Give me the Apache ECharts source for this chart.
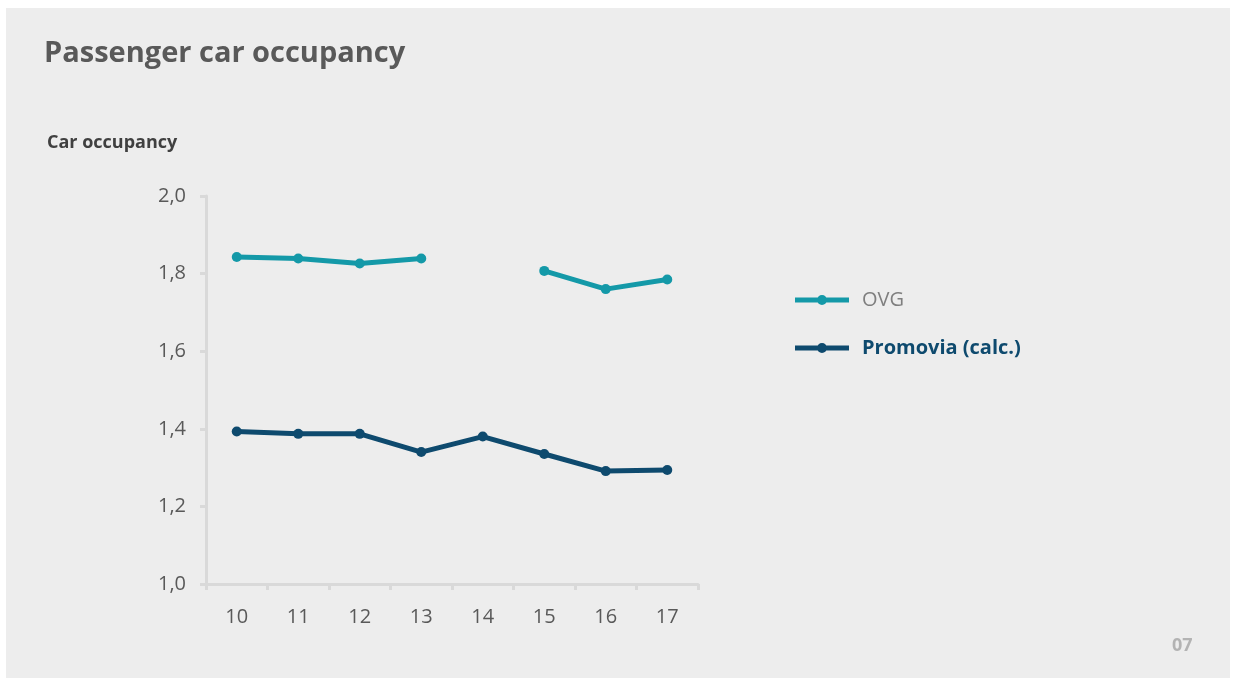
<!DOCTYPE html>
<html>
<head>
<meta charset="utf-8">
<script src="https://cdn.jsdelivr.net/npm/echarts@6/dist/echarts.min.js"></script>
<style>
  html, body { margin: 0; padding: 0; background: #ffffff; }
  #chart { width: 1234px; height: 684px; }
</style>
</head>
<body>
<div id="chart"></div>
<script>
// Years (20xx) on the category axis
const years = ['10', '11', '12', '13', '14', '15', '16', '17'];
// Average persons per car; null = no survey that year
const ovg = [1.843, 1.839, 1.826, 1.839, null, 1.807, 1.760, 1.785];
const promovia = [1.393, 1.387, 1.387, 1.340, 1.380, 1.335, 1.291, 1.294];
const yTicks = { min: 1.0, max: 2.0, interval: 0.2 };

const font = '"Open Sans", "Noto Sans", sans-serif';
// legend marker: short thick line with a dot in the middle (same winding so the dot stays filled)
const lineDot = 'path://M0,2.5 L54,2.5 L54,7.5 L0,7.5 Z M22,5 A5,5 0 1,1 32,5 A5,5 0 1,1 22,5 Z';
const chart = echarts.init(document.getElementById('chart'));

chart.setOption({
  backgroundColor: '#ffffff',
  animation: false,
  graphic: [
    { type: 'rect', left: 6, top: 8, shape: { width: 1224, height: 670 },
      style: { fill: '#ededed' }, z: -10 },
    { type: 'text', left: 44, top: 39,
      style: { text: 'Passenger car occupancy', fill: '#595959',
               font: 'bold 29px ' + font } },
    { type: 'text', left: 47, top: 134,
      style: { text: 'Car occupancy', fill: '#404040',
               font: 'bold 18px ' + font } },
    { type: 'text', left: 1172, top: 637,
      style: { text: '07', fill: '#b3b3b3', font: 'bold 18px ' + font } }
  ],
  grid: { left: 206, top: 196, width: 492, height: 388, containLabel: false },
  legend: {
    orient: 'vertical',
    left: 790, top: 285,
    itemGap: 28,
    itemWidth: 54, itemHeight: 10,
    textStyle: { fontFamily: font, fontSize: 20, color: '#7f7f7f', padding: [0, 0, 0, 8] },
    data: [
      { name: 'OVG', icon: lineDot },
      { name: 'Promovia (calc.)', icon: lineDot,
        textStyle: { color: '#0e4a6e', fontWeight: 'bold' } }
    ]
  },
  xAxis: {
    type: 'category',
    data: years,
    boundaryGap: true,
    axisLine: { lineStyle: { color: '#d9d9d9', width: 3 } },
    axisTick: { show: true, length: 6, lineStyle: { color: '#d9d9d9', width: 3 } },
    axisLabel: { color: '#595959', fontFamily: font, fontSize: 20, margin: 23 },
    splitLine: { show: false }
  },
  yAxis: {
    type: 'value',
    min: yTicks.min, max: yTicks.max, interval: yTicks.interval,
    axisLine: { show: true, lineStyle: { color: '#d9d9d9', width: 3 } },
    axisTick: { show: true, length: 6, lineStyle: { color: '#d9d9d9', width: 3 } },
    axisLabel: { color: '#595959', fontFamily: font, fontSize: 20, margin: 20,
                 formatter: v => v.toFixed(1).replace('.', ',') },
    splitLine: { show: false }
  },
  series: [
    {
      name: 'OVG', type: 'line', data: ovg, connectNulls: false,
      symbol: 'circle', symbolSize: 10,
      lineStyle: { color: '#1499a8', width: 5 },
      itemStyle: { color: '#1499a8' }
    },
    {
      name: 'Promovia (calc.)', type: 'line', data: promovia,
      symbol: 'circle', symbolSize: 10,
      lineStyle: { color: '#0e4a6e', width: 5 },
      itemStyle: { color: '#0e4a6e' }
    }
  ]
});
</script>
</body>
</html>
